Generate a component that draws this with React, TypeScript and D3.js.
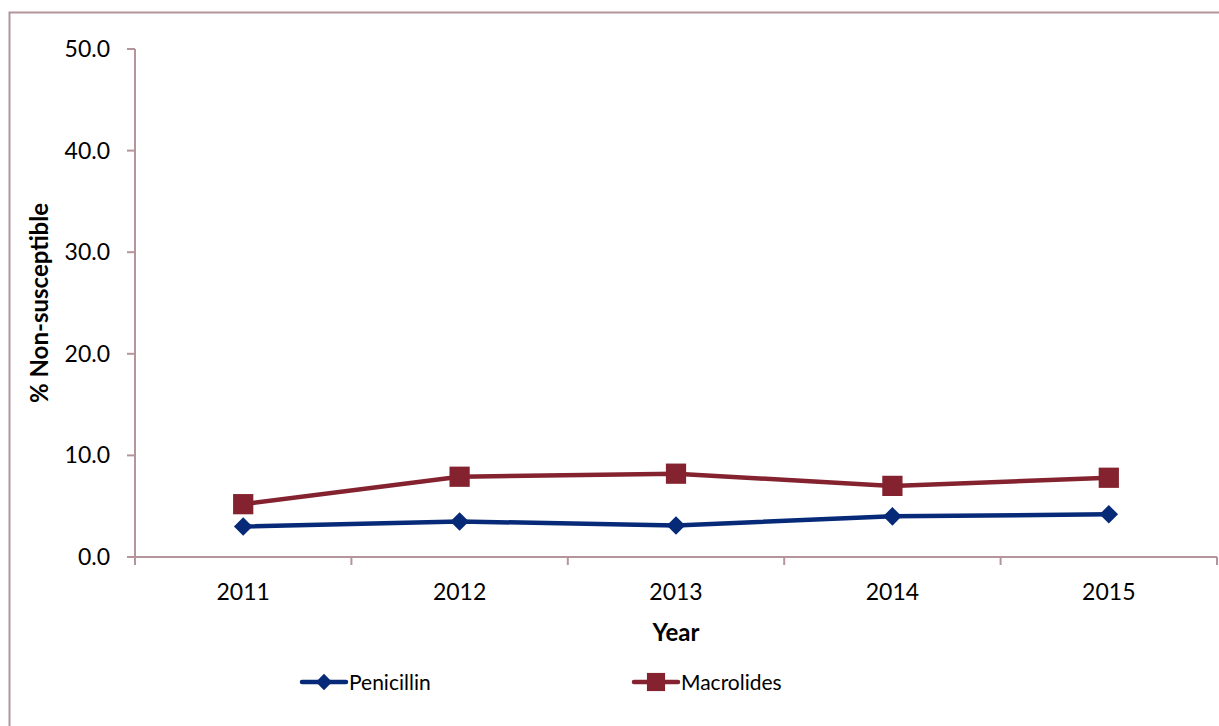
import React, { useEffect, useRef } from "react";
import * as d3 from "d3";

// values
const years = ["2011", "2012", "2013", "2014", "2015"];
const penicillin = [3.0, 3.5, 3.1, 4.0, 4.2];
const macrolides = [5.2, 7.9, 8.2, 7.0, 7.8];
const yTicks = [0, 10, 20, 30, 40, 50];

const seriesList = [
  { name: "Penicillin", values: penicillin, color: "#062a78", shape: "diamond" },
  { name: "Macrolides", values: macrolides, color: "#84232f", shape: "square" },
];

const W = 1219;
const H = 726;
const FONT = "Lato, 'Open Sans', sans-serif";
const AXIS = "#b4959b";

const App: React.FC = () => {
  const ref = useRef<SVGSVGElement | null>(null);

  useEffect(() => {
    const svg = d3.select(ref.current);
    svg.selectAll("*").remove();

    // outer frame (runs off the right / bottom edges)
    svg.append("rect")
      .attr("x", 9.5).attr("y", 12.5)
      .attr("width", W).attr("height", H)
      .attr("fill", "white")
      .attr("stroke", AXIS).attr("stroke-width", 2);

    const left = 135, right = 1217, top = 49, bottom = 557;

    const x = d3.scaleBand<string>().domain(years).range([left, right]);
    const y = d3.scaleLinear().domain([0, 50]).range([bottom, top]);

    // y axis
    const gy = svg.append("g");
    gy.append("line")
      .attr("x1", left).attr("x2", left)
      .attr("y1", top).attr("y2", bottom)
      .attr("stroke", AXIS).attr("stroke-width", 2);
    yTicks.forEach(t => {
      gy.append("line")
        .attr("x1", left - 8).attr("x2", left)
        .attr("y1", y(t)).attr("y2", y(t))
        .attr("stroke", AXIS).attr("stroke-width", 2);
      gy.append("text")
        .attr("x", 110).attr("y", y(t) + 8)
        .attr("text-anchor", "end")
        .style("font", `23px ${FONT}`)
        .text(t.toFixed(1));
    });

    // x axis
    const gx = svg.append("g");
    gx.append("line")
      .attr("x1", left - 8).attr("x2", right)
      .attr("y1", bottom).attr("y2", bottom)
      .attr("stroke", AXIS).attr("stroke-width", 2);
    const edges = years.map(d => x(d)!).concat([right]);
    edges.forEach(e => {
      gx.append("line")
        .attr("x1", e).attr("x2", e)
        .attr("y1", bottom).attr("y2", bottom + 8)
        .attr("stroke", AXIS).attr("stroke-width", 2);
    });
    years.forEach(d => {
      gx.append("text")
        .attr("x", x(d)! + x.bandwidth() / 2).attr("y", 600)
        .attr("text-anchor", "middle")
        .style("font", `23px ${FONT}`)
        .text(d);
    });

    // axis titles
    svg.append("text")
      .attr("x", 676).attr("y", 641)
      .attr("text-anchor", "middle")
      .style("font", `bold 24px ${FONT}`)
      .text("Year");
    svg.append("text")
      .attr("transform", `translate(48, ${(top + bottom) / 2}) rotate(-90)`)
      .attr("text-anchor", "middle")
      .style("font", `bold 24px ${FONT}`)
      .text("% Non-susceptible");

    const diamond = d3.symbol().type(d3.symbolDiamond2).size(220);
    const square = d3.symbol().type(d3.symbolSquare).size(410);
    const legendDiamond = d3.symbol().type(d3.symbolDiamond2).size(170);
    const legendSquare = d3.symbol().type(d3.symbolSquare).size(330);

    const line = d3.line<number>()
      .x((_, i) => x(years[i])! + x.bandwidth() / 2)
      .y(v => y(v));

    seriesList.forEach(s => {
      const g = svg.append("g");
      g.append("path")
        .attr("d", line(s.values))
        .attr("fill", "none")
        .attr("stroke", s.color)
        .attr("stroke-width", 4.5);
      g.selectAll("path.m")
        .data(s.values)
        .join("path")
        .attr("class", "m")
        .attr("d", s.shape === "diamond" ? diamond() : square())
        .attr("transform", (v, i) => `translate(${x(years[i])! + x.bandwidth() / 2},${y(v)})`)
        .attr("fill", s.color);
    });

    // legend
    const legendX = [302, 634];
    seriesList.forEach((s, i) => {
      const g = svg.append("g").attr("transform", `translate(${legendX[i]}, 682)`);
      g.append("line")
        .attr("x1", 0).attr("x2", 44)
        .attr("stroke", s.color).attr("stroke-width", 4.5)
        .attr("stroke-linecap", "round");
      g.append("path")
        .attr("d", s.shape === "diamond" ? legendDiamond() : legendSquare())
        .attr("transform", "translate(22,0)")
        .attr("fill", s.color);
      g.append("text")
        .attr("x", 47).attr("y", 8)
        .style("font", `21px ${FONT}`)
        .text(s.name);
    });
  }, []);

  return (
    <svg
      ref={ref}
      width={W}
      height={H}
      style={{ position: "absolute", left: 0, top: 0, display: "block", background: "white" }}
    />
  );
};

export default App;
